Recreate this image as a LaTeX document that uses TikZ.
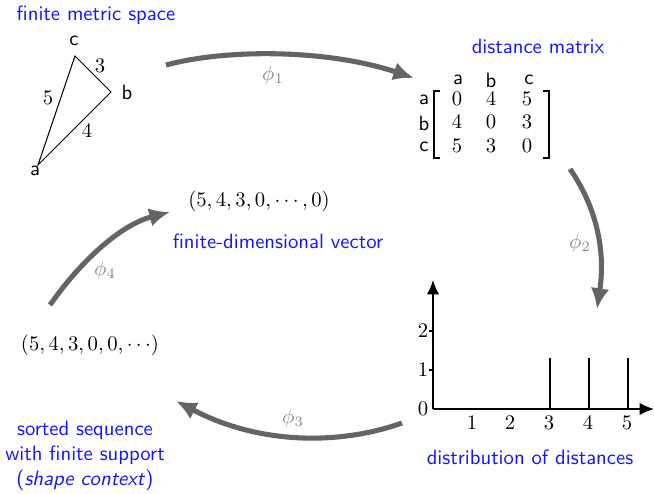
\documentclass[tikz,border=0pt]{standalone}
\usetikzlibrary{arrows.meta}
\definecolor{arrgray}{RGB}{100,100,100}
\definecolor{lblgray}{RGB}{135,135,135}
\definecolor{txtblue}{RGB}{20,20,255}
\tikzset{
  bluelbl/.style={text=txtblue,font=\sffamily,inner sep=0pt},
  sflbl/.style={font=\sffamily,inner sep=0pt},
  mlbl/.style={inner sep=0pt},
  bigarrow/.style={draw=arrgray,line width=2.45pt,-{Latex[length=10pt,width=9pt]}},
  philbl/.style={text=lblgray,inner sep=0pt},
  edge/.style={line width=0.5pt},
  bar/.style={line width=1.4pt},
  axis/.style={line width=0.7pt,-{Latex[length=7pt,width=6pt]}},
}
\begin{document}
\begin{tikzpicture}[x=0.483pt,y=-0.483pt]
\useasboundingbox (0,0) rectangle (654,493);
% finite metric space
\node[bluelbl] (fms) at (96,15) {finite metric space};
\coordinate (va) at (38,165);
\coordinate (vb) at (111,92);
\coordinate (vc) at (75,56);
\draw[edge] (va) -- (vc) -- (vb) -- cycle;
\node[sflbl] (la) at (35,171) {a};
\node[sflbl] (lb) at (127,92) {b};
\node[sflbl] (lc) at (74,41) {c};
\node[mlbl] (e5) at (48,98) {$5$};
\node[mlbl] (e3) at (100,66) {$3$};
\node[mlbl] (e4) at (87,131) {$4$};
% distance matrix
\node[bluelbl] (dm) at (538,46) {distance matrix};
\node[sflbl] (ha) at (458,80) {a};
\node[sflbl] (hb) at (491,80) {b};
\node[sflbl] (hc) at (529,80) {c};
\node[sflbl] (ra) at (424,100) {a};
\node[sflbl] (rb) at (424,123) {b};
\node[sflbl] (rc) at (424,147) {c};
\node[mlbl] (m11) at (457,99) {$0$};
\node[mlbl] (m12) at (491,99) {$4$};
\node[mlbl] (m13) at (527,99) {$5$};
\node[mlbl] (m21) at (457,122) {$4$};
\node[mlbl] (m22) at (491,122) {$0$};
\node[mlbl] (m23) at (527,122) {$3$};
\node[mlbl] (m31) at (457,146) {$5$};
\node[mlbl] (m32) at (491,146) {$3$};
\node[mlbl] (m33) at (527,146) {$0$};
\draw[line width=0.5pt] (440,91) -- (434,91) -- (434,158) -- (440,158);
\draw[line width=0.5pt] (543,91) -- (549,91) -- (549,158) -- (543,158);
% distribution chart
\coordinate (o) at (433,409);
\coordinate (ytip) at (433,280);
\coordinate (xtip) at (654,409);
\draw[axis] (o) -- (ytip);
\draw[axis] (o) -- (xtip);
\draw[line width=0.5pt] (429,370) -- (433,370);
\draw[line width=0.5pt] (429,331) -- (433,331);
\node[mlbl] (y0) at (423,409) {$0$};
\node[mlbl] (y1) at (423,370) {$1$};
\node[mlbl] (y2) at (423,331) {$2$};
\node[mlbl] (x1) at (472,423) {$1$};
\node[mlbl] (x2) at (510,423) {$2$};
\node[mlbl] (x3) at (549,423) {$3$};
\node[mlbl] (x4) at (588,423) {$4$};
\node[mlbl] (x5) at (627,423) {$5$};
\coordinate (b3) at (550,409); \coordinate (t3) at (550,358);
\coordinate (b4) at (589,409); \coordinate (t4) at (589,358);
\coordinate (b5) at (628,409); \coordinate (t5) at (628,358);
\draw[bar] (b3) -- (t3);
\draw[bar] (b4) -- (t4);
\draw[bar] (b5) -- (t5);
\node[bluelbl] (dd) at (530,457) {distribution of distances};
% sorted sequence
\node[mlbl] (seq) at (90,345) {$(5,4,3,0,0,\cdots)$};
\node[bluelbl,align=center] (ss) at (85,456) {sorted sequence\\with finite support\\(\textit{shape context})};
% finite-dim vector
\node[mlbl] (vec) at (259,201) {$(5,4,3,0,\cdots,0)$};
\node[bluelbl] (fdv) at (278,241) {finite-dimensional vector};
% big arrows
\coordinate (p1s) at (166,65); \coordinate (p1e) at (414,78);
\coordinate (p2s) at (570,169); \coordinate (p2e) at (597,309);
\coordinate (p3s) at (402,423); \coordinate (p3e) at (176,401);
\coordinate (p4s) at (50,305); \coordinate (p4e) at (170,212);
\draw[bigarrow] (p1s) .. controls (230,48) and (330,50) .. (p1e);
\draw[bigarrow] (p2s) .. controls (595,205) and (606,248) .. (p2e);
\draw[bigarrow] (p3s) .. controls (340,445) and (260,445) .. (p3e);
\draw[bigarrow] (p4s) .. controls (80,262) and (120,225) .. (p4e);
\node[philbl] (phi1) at (273,75) {$\phi_1$};
\node[philbl] (phi2) at (580,243) {$\phi_2$};
\node[philbl] (phi3) at (293,418) {$\phi_3$};
\node[philbl] (phi4) at (105,270) {$\phi_4$};
\end{tikzpicture}
\end{document}
